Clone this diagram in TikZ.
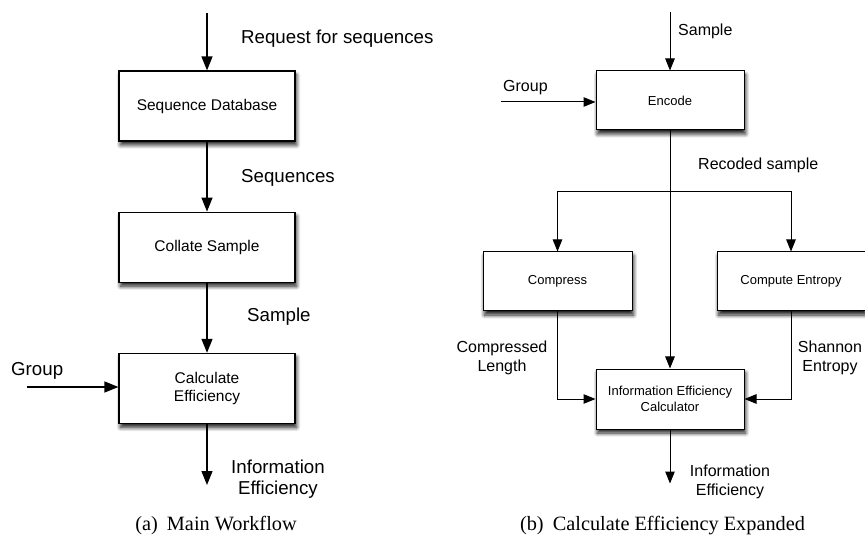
\documentclass[tikz,border=0pt]{standalone}
\usepackage{fontspec}
\setmainfont{Liberation Serif}
\setsansfont{Liberation Sans}
\usetikzlibrary{arrows.meta}
\usetikzlibrary{positioning}
\usetikzlibrary{shadows.blur}
\tikzset {
  % process box
  box node/.style = {
    draw = black,
    fill = white,
    rectangle,
    align = center,
    inner sep = 0,
    blur shadow={shadow xshift=1.5pt,shadow yshift=-4pt,shadow blur radius=4pt,shadow blur steps=8,shadow opacity=90}
  },
  % box of the main workflow
  big box/.style = {
    box node,
    line width = 1.2pt,
    minimum width = 176pt,
    minimum height = 70pt,
    font = \sffamily\fontsize{15.5}{18}\selectfont
  },
  % box of the expanded step
  small box/.style = {
    box node,
    line width = 1pt,
    minimum width = 148pt,
    minimum height = 59pt,
    font = \sffamily\fontsize{13}{15.7}\selectfont
  },
  % text on a flow
  big lbl/.style = {
    inner sep = 0,
    align = center,
    font = \sffamily\fontsize{18.7}{21}\selectfont
  },
  small lbl/.style = {
    inner sep = 0,
    align = center,
    font = \sffamily\fontsize{16}{19}\selectfont
  },
  caption/.style = {
    inner sep = 0,
    font = \rmfamily\fontsize{20.3}{24}\selectfont
  },
  % flow with arrow
  big arr/.style = {
    draw = black,
    line width = 1.3pt,
    -{Triangle[length = 14pt, width = 11pt]}
  },
  arr/.style = {
    draw = black,
    line width = 1pt,
    -{Triangle[length = 12pt, width = 9.5pt]}
  },
  % flow without arrow
  narr/.style = {
    draw = black,
    line width = 1pt
  }
}

\begin{document}
\begin{tikzpicture}[x = 1pt, y = -1pt]
  \useasboundingbox (0,0) rectangle (865,537);

  % (a) main workflow
  \node[big box] (seqdb) at (207,106) {Sequence Database};
  \node[big box] (collate) [below=70pt of seqdb] {Collate Sample};
  \node[big box] (calc) [below=70pt of collate] {Calculate\\Efficiency};
  \coordinate [above=57pt of seqdb] (req-in);
  \coordinate [below=61pt of calc] (calc-out);
  \coordinate (group-a) at (27,387);

  \draw[big arr] (req-in) -- (seqdb);
  \draw[big arr] (seqdb) -- (collate);
  \draw[big arr] (collate) -- (calc);
  \draw[big arr] (group-a) -- (group-a -| calc.west);
  \draw[big arr] (calc) -- (calc-out);

  \node[big lbl, anchor=base west] (req-lbl) at (241,44) {Request for sequences};
  \node[big lbl, anchor=base west] (seq-lbl) at (241,183) {Sequences};
  \node[big lbl, anchor=base west] (sample-lbl) at (247,322) {Sample};
  \node[big lbl, anchor=base west] (group-a-lbl) at (11,375) {Group};
  \node[big lbl] (eff-a-lbl) at (278,479) {Information\\Efficiency};
  \node[caption] (cap-a) at (216,526) {(a)\hspace{0.45em}Main Workflow};

  % (b) calculate efficiency expanded
  \node[small box] (encode) at (670,100.5) {Encode};
  \node[small box, minimum width=149pt] (compress) at (557.5,281.5) {Compress};
  \node[small box] (entropy) at (791,281.5) {Compute Entropy};
  \node[small box, minimum height=60pt] (infocalc) at (670,399) {Information Efficiency\\Calculator};
  \coordinate [above=58pt of encode] (sample-in);
  \coordinate (branch) at (670,192);
  \coordinate (group-b) at (501,102);
  \coordinate [below=54pt of infocalc] (info-out);

  \draw[arr] (sample-in) -- (encode);
  \draw[arr] (group-b) -- (group-b -| encode.west);
  \draw[arr] (encode) -- (infocalc);
  \draw[arr] (branch) -| (compress);
  \draw[arr] (branch) -| (entropy);
  \draw[arr] (compress) |- (infocalc);
  \draw[arr] (entropy) |- (infocalc);
  \draw[arr] (infocalc) -- (info-out);

  \node[small lbl, anchor=base west] (sample-b-lbl) at (678,36) {Sample};
  \node[small lbl, anchor=base west] (group-b-lbl) at (503,92) {Group};
  \node[small lbl, anchor=base west] (recoded-lbl) at (698,170) {Recoded sample};
  \node[small lbl] (complen-lbl) at (502,357.5) {Compressed\\Length};
  \node[small lbl] (shannon-lbl) at (830,357.5) {Shannon\\Entropy};
  \node[small lbl] (eff-b-lbl) at (730,482) {Information\\Efficiency};
  \node[caption] (cap-b) at (662.5,526) {(b)\hspace{0.45em}Calculate Efficiency Expanded};
\end{tikzpicture}
\end{document}
